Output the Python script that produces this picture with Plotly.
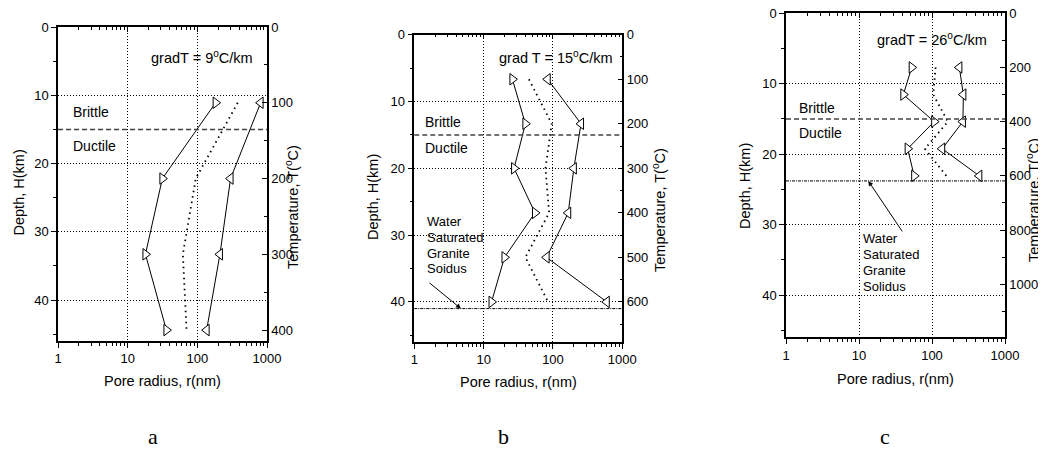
import math
import plotly.graph_objects as go

# ---------------- data ----------------
GRAD_T = [9, 15, 26]            # degC/km for panels a, b, c
GRAD_LABELS = ["gradT = 9<sup>o</sup>C/km", "grad T = 15<sup>o</sup>C/km", "gradT = 26<sup>o</sup>C/km"]
PANEL_LABELS = ["a", "b", "c"]
DEPTH_MAX = 46
BOUNDARY_DEPTH = 15             # brittle / ductile
SOLIDUS_DEPTH = [None, 41.0, 23.8]
SOLIDUS_ARROW_R = [None, 4.7, 13.4]

DEPTH_A = [11.1, 22.2, 33.3, 44.4]
R_MIN_A = [183, 31.5, 18, 36]
R_MID_A = [380, 95, 62, 70]
R_MAX_A = [810, 300, 211, 136]

DEPTH_B = [6.67, 13.33, 20.0, 26.67, 33.33, 40.0]
R_MIN_B = [26, 40, 27.5, 55, 20, 13]
R_MID_B = [45, 96, 78, 88, 40, 85]
R_MAX_B = [84, 254, 200, 166, 81, 597]

DEPTH_C = [7.69, 11.54, 15.38, 19.23, 23.08]
R_MIN_C = [52.7, 40.5, 107, 46.4, 57]
R_MID_C = [112, 104, 165, 80, 157]
R_MAX_C = [237, 269, 265, 138, 445]

X_TICKS = [1, 10, 100, 1000]
X_MINOR = [m * d for d in (1, 10, 100) for m in range(2, 10)]
T_DTICK = [100, 100, 200]

# ---------------- layout geometry (page pixels) ----------------
W, H = 1046, 452
OFF = 8   # page body margin
BOXES = [(58, 267, 27, 341), (414.3, 622.3, 34.7, 342), (786, 1005, 13.3, 337.3)]

FONT = "Liberation Sans, Arial, sans-serif"

def px(x):
    return (x - OFF) / W

def py(y):
    return 1 - (y - OFF) / H

fig = go.Figure()
layout = dict(
    width=W, height=H, margin=dict(l=0, r=0, t=0, b=0, autoexpand=False),
    paper_bgcolor="white", plot_bgcolor="rgba(0,0,0,0)",
    showlegend=False, font=dict(family=FONT, size=13, color="black"),
)

panels = [
    (DEPTH_A, R_MIN_A, R_MID_A, R_MAX_A),
    (DEPTH_B, R_MIN_B, R_MID_B, R_MAX_B),
    (DEPTH_C, R_MIN_C, R_MID_C, R_MAX_C),
]

shapes = []
annotations = []

def ax(k):
    return "" if k == 1 else str(k)

for i, (depth, rmin, rmid, rmax) in enumerate(panels):
    n = i + 1
    xb, xt = n, n + 3          # bottom, top x axes
    yl, yr = n, n + 3          # left, right y axes
    x0, x1, y0, y1 = BOXES[i]
    xdom = [px(x0), px(x1)]
    ydom = [py(y1), py(y0)]

    common_x = dict(type="log", range=[0, 3], domain=xdom, showline=True, automargin=False,
                    linecolor="black", linewidth=1.5, zeroline=False, ticklabeloverflow="allow")
    layout["xaxis" + ax(xb)] = dict(
        **common_x, anchor="y" + ax(yl), side="bottom",
        tickvals=X_TICKS, ticktext=[str(v) for v in X_TICKS],
        ticks="outside", ticklen=5, tickwidth=1, tickcolor="black",
        minor=dict(tickvals=X_MINOR, ticks="outside", ticklen=3, tickcolor="black", showgrid=False),
        showgrid=True, gridcolor="black", gridwidth=1, griddash="1px,2px",
        tickfont=dict(size=13, family=FONT),
    )
    layout["xaxis" + ax(xt)] = dict(
        **common_x, anchor="y" + ax(yl), overlaying="x" + ax(xb), side="top",
        tickvals=X_TICKS, showticklabels=False,
        ticks="inside", ticklen=5, tickwidth=1, tickcolor="black",
        minor=dict(tickvals=X_MINOR, ticks="inside", ticklen=3, tickcolor="black", showgrid=False),
        showgrid=False,
    )
    layout["yaxis" + ax(yl)] = dict(
        range=[DEPTH_MAX, 0], domain=ydom, anchor="x" + ax(xb), side="left", automargin=False,
        showline=True, linecolor="black", linewidth=1.5, zeroline=False, ticklabeloverflow="allow",
        dtick=10, tick0=0, ticks="outside", ticklen=5, tickwidth=1, tickcolor="black",
        minor=dict(dtick=5, tick0=0, ticks="outside", ticklen=3, tickcolor="black", showgrid=False),
        showgrid=True, gridcolor="black", gridwidth=1, griddash="1px,2px",
        tickfont=dict(size=13, family=FONT),
    )
    layout["yaxis" + ax(yr)] = dict(
        range=[DEPTH_MAX * GRAD_T[i], 0], domain=ydom, anchor="x" + ax(xb), automargin=False,
        overlaying="y" + ax(yl), side="right", ticklabeloverflow="allow",
        showline=True, linecolor="black", linewidth=1.5, zeroline=False,
        dtick=T_DTICK[i], tick0=0, ticks="inside", ticklen=5, tickwidth=1, tickcolor="black",
        minor=dict(dtick=T_DTICK[i] / 2, tick0=0, ticks="inside", ticklen=3, tickcolor="black", showgrid=False),
        showgrid=False, tickfont=dict(size=13, family=FONT),
    )

    xa, ya = "x" + ax(xb), "y" + ax(yl)
    # invisible helpers to activate overlay axes
    fig.add_trace(go.Scatter(x=[10], y=[10], xaxis="x" + ax(xt), yaxis=ya, mode="markers",
                             marker=dict(opacity=0), hoverinfo="skip"))
    fig.add_trace(go.Scatter(x=[10], y=[100], xaxis=xa, yaxis="y" + ax(yr), mode="markers",
                             marker=dict(opacity=0), hoverinfo="skip"))

    # boundary brittle/ductile
    shapes.append(dict(type="line", xref=xa + " domain", yref=ya, x0=0, x1=1,
                       y0=BOUNDARY_DEPTH, y1=BOUNDARY_DEPTH,
                       line=dict(color="#444444", width=1.5, dash="5px,3px")))
    if SOLIDUS_DEPTH[i] is not None:
        shapes.append(dict(type="line", xref=xa + " domain", yref=ya, x0=0, x1=1,
                           y0=SOLIDUS_DEPTH[i], y1=SOLIDUS_DEPTH[i],
                           line=dict(color="black", width=1, dash="3px,1px,1px,1px")))

    # data series
    fig.add_trace(go.Scatter(x=rmid, y=depth, xaxis=xa, yaxis=ya, mode="lines",
                             line=dict(color="black", width=1.8, dash="1.5px,4px")))
    fig.add_trace(go.Scatter(x=rmin, y=depth, xaxis=xa, yaxis=ya, mode="lines+markers",
                             line=dict(color="black", width=1),
                             marker=dict(symbol="triangle-right", size=10, color="white",
                                         line=dict(color="black", width=1))))
    fig.add_trace(go.Scatter(x=rmax, y=depth, xaxis=xa, yaxis=ya, mode="lines+markers",
                             line=dict(color="black", width=1),
                             marker=dict(symbol="triangle-left", size=10, color="white",
                                         line=dict(color="black", width=1))))

# ---------------- text ----------------
def text(s, x, y, size=14, xanchor="left", angle=0, family=FONT):
    annotations.append(dict(text=s, x=px(x), y=py(y), xref="paper", yref="paper",
                            xanchor=xanchor, yanchor="middle", showarrow=False,
                            textangle=angle, font=dict(size=size, family=family, color="black")))

# gradient labels
text(GRAD_LABELS[0], 149, 57, size=14.5)
text(GRAD_LABELS[1], 497, 57, size=14.5)
text(GRAD_LABELS[2], 875, 39, size=14.5)

# brittle / ductile
for bx, by, dy in [(71, 112, 146), (423, 122, 148), (797, 108, 133)]:
    text("Brittle", bx, by)
    text("Ductile", bx, dy)

# solidus text
for j, w in enumerate(["Water", "Saturated", "Granite", "Soidus"]):
    text(w, 425, 222 + j * 15.5, size=13)
for j, w in enumerate(["Water", "Saturated", "Granite", "Solidus"]):
    text(w, 861, 238 + j * 16.3, size=13)

# solidus arrows
annotations.append(dict(x=math.log10(SOLIDUS_ARROW_R[1]), y=SOLIDUS_DEPTH[1], xref="x2", yref="y2",
                        ax=-33, ay=-27, showarrow=True, arrowhead=2, arrowsize=1, arrowwidth=1,
                        arrowcolor="black", text=""))
annotations.append(dict(x=math.log10(SOLIDUS_ARROW_R[2]), y=SOLIDUS_DEPTH[2], xref="x3", yref="y3",
                        ax=35, ay=52, showarrow=True, arrowhead=2, arrowsize=1, arrowwidth=1,
                        arrowcolor="black", text=""))

# axis titles
for cx, cy in [(162.5, 381), (518, 382), (895.5, 379)]:
    text("Pore radius, r(nm)", cx, cy, size=14.5, xanchor="center")
for cx, cy in [(18.5, 193), (373, 197), (745, 186)]:
    text("Depth, H(km)", cx, cy, size=14.5, xanchor="center", angle=-90)
for cx, cy in [(292, 207), (659, 210), (1033, 200)]:
    text("Temperature, T(<sup>o</sup>C)", cx, cy, size=14.5, xanchor="center", angle=-90)

# panel labels
for lab, cx in zip(PANEL_LABELS, [152.5, 503, 885]):
    text(lab, cx, 436, size=22, xanchor="center", family="Liberation Serif, Times New Roman, serif")

layout["shapes"] = shapes
layout["annotations"] = annotations
fig.update_layout(**layout)
fig.write_html("out.html")
